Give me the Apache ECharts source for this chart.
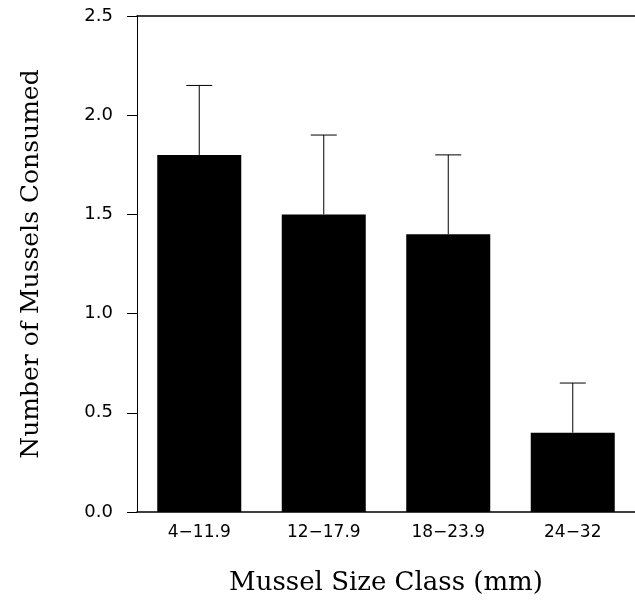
<!DOCTYPE html>
<html>
<head>
<meta charset="utf-8">
<script src="https://cdn.jsdelivr.net/npm/echarts@6/dist/echarts.min.js"></script>
<style>
html, body { margin: 0; padding: 0; background: #fff; }
#chart { width: 635px; height: 601px; }
</style>
</head>
<body>
<div id="chart"></div>
<script>
var sizeClasses = ['4\u221211.9', '12\u221217.9', '18\u221223.9', '24\u221232'];
var meanConsumed = [1.8, 1.5, 1.4, 0.4];
var errorTop = [2.15, 1.9, 1.8, 0.65];

var labelFont = 'DejaVu Sans',
	titleFont = 'DejaVu Serif';

var myChart = echarts.init(document.getElementById('chart'), null, { renderer: 'canvas' });

function renderErrorBar(params, api) {
	var i = api.value(0),
		base = api.coord([i, api.value(1)]),
		top = api.coord([i, api.value(2)]),
		half = 13;

	return {
		type: 'group',
		children: [
			{
				type: 'line',
				shape: { x1: base[0], y1: base[1], x2: top[0], y2: top[1] },
				style: { stroke: '#000', lineWidth: 1 }
			},
			{
				type: 'line',
				shape: { x1: top[0] - half, y1: top[1], x2: top[0] + half, y2: top[1] },
				style: { stroke: '#000', lineWidth: 1 }
			}
		]
	};
}

var errData = meanConsumed.map(function (v, i) {
	return [i, v, errorTop[i]];
});

var option = {
	animation: false,
	backgroundColor: '#fff',
	grid: {
		left: 137,
		right: 0,
		top: 16,
		bottom: 85
	},
	xAxis: [
		{
			type: 'category',
			data: sizeClasses,
			position: 'bottom',
			axisLine: { lineStyle: { color: '#000', width: 1.5 } },
			axisTick: { show: false },
			axisLabel: {
				color: '#000',
				fontFamily: labelFont,
				fontSize: 17,
				margin: 12
			},
			name: 'Mussel Size Class (mm)',
			nameLocation: 'middle',
			nameGap: 58,
			nameTextStyle: {
				color: '#000',
				fontFamily: titleFont,
				fontSize: 26
			}
		},
		{
			type: 'category',
			data: sizeClasses,
			position: 'top',
			axisLine: { lineStyle: { color: '#000', width: 1.5 } },
			axisTick: { show: false },
			axisLabel: { show: false }
		}
	],
	yAxis: {
		type: 'value',
		min: 0,
		max: 2.5,
		interval: 0.5,
		axisLine: { show: true, lineStyle: { color: '#000', width: 1 } },
		axisTick: { show: true, length: 10, lineStyle: { color: '#000' } },
		splitLine: { show: false },
		axisLabel: {
			color: '#000',
			fontFamily: labelFont,
			fontSize: 18,
			margin: 24,
			formatter: function (v) { return v.toFixed(1); }
		},
		name: 'Number of Mussels Consumed',
		nameLocation: 'middle',
		nameGap: 93,
		nameTextStyle: {
			color: '#000',
			fontFamily: titleFont,
			fontSize: 25
		}
	},
	series: [
		{
			type: 'bar',
			data: meanConsumed,
			barWidth: 84,
			itemStyle: { color: '#000' },
			z: 2
		},
		{
			type: 'custom',
			data: errData,
			renderItem: renderErrorBar,
			z: 1
		}
	]
};

myChart.setOption(option);
</script>
</body>
</html>
